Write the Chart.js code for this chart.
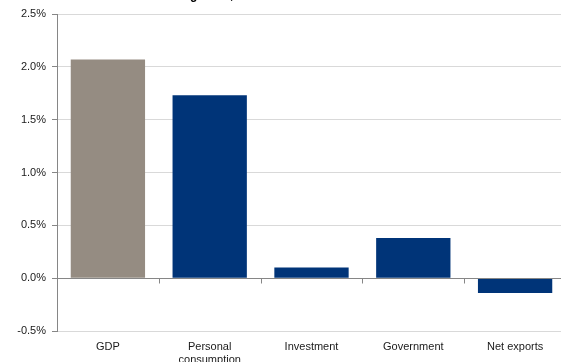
<!DOCTYPE html>
<html>
<head>
<meta charset="utf-8">
<script src="https://cdn.jsdelivr.net/npm/chart.js@4"></script>
<style>
  html, body { margin: 0; padding: 0; background: #fff; overflow: hidden; }
  canvas { display: block; }
</style>
</head>
<body>
<canvas id="growthChart" width="566" height="362"></canvas>
<script>
// Chart data
const categories = [['GDP'], ['Personal', 'consumption'], ['Investment'], ['Government'], ['Net exports']];
const contributions = [2.07, 1.73, 0.10, 0.38, -0.14];
const barColors = ['#958C82', '#003478', '#003478', '#003478', '#003478'];
const yTicks = { min: -0.5, max: 2.5, step: 0.5 };
const titleText = 'Contributions to real GDP growth, 2013';

// Title sits mostly above the visible area, only descenders show
const clippedTitle = {
    id: 'clippedTitle',
    afterDraw: (chart) => {
        const ctx = chart.ctx;
        ctx.save();
        ctx.font = 'bold 12px "Liberation Sans", Arial, sans-serif';
        ctx.fillStyle = '#000';
        ctx.textBaseline = 'alphabetic';
        const prefix = titleText.slice(0, titleText.indexOf('growth'));
        const x = 190 - ctx.measureText(prefix).width;
        ctx.fillText(titleText, x, -1);
        ctx.restore();
    }
};

// Tick marks on the zero line between categories
const zeroTicks = {
    id: 'zeroTicks',
    afterDatasetsDraw: (chart) => {
        const { ctx, scales: { x, y } } = chart;
        const y0 = Math.round(y.getPixelForValue(0)) + 0.5;
        const step = (x.right - x.left) / categories.length;
        ctx.save();
        ctx.strokeStyle = '#868686';
        ctx.lineWidth = 1;
        ctx.beginPath();
        ctx.moveTo(x.left, y0);
        ctx.lineTo(x.right, y0);
        for (let i = 1; i < categories.length; i++) {
            const px = Math.round(x.left + i * step) + 0.5;
            ctx.moveTo(px, y0);
            ctx.lineTo(px, y0 + 5);
        }
        ctx.stroke();
        ctx.restore();
    }
};

Chart.defaults.font.family = '"Liberation Sans", Arial, sans-serif';
Chart.defaults.font.size = 11;
Chart.defaults.color = '#1a1a1a';

new Chart(document.getElementById('growthChart').getContext('2d'), {
    type: 'bar',
    data: {
        labels: categories,
        datasets: [{
            data: contributions,
            backgroundColor: barColors,
            borderWidth: 0,
            barPercentage: 0.73,
            categoryPercentage: 1
        }]
    },
    options: {
        responsive: false,
        animation: false,
        layout: { padding: { top: 14, right: 0, left: 0, bottom: 0 } },
        plugins: {
            legend: { display: false },
            tooltip: { enabled: false }
        },
        scales: {
            x: {
                grid: { display: false },
                border: { display: false },
                ticks: { padding: 1, maxRotation: 0, autoSkip: false },
                afterFit: (scale) => { scale.height = 31; }
            },
            y: {
                min: yTicks.min,
                max: yTicks.max,
                grid: {
                    color: '#d9d9d9',
                    tickColor: '#868686',
                    tickLength: 5
                },
                border: { display: true, color: '#868686' },
                ticks: {
                    stepSize: yTicks.step,
                    padding: 6,
                    callback: (v) => v.toFixed(1) + '%'
                },
                afterFit: (scale) => { scale.width = 57; }
            }
        }
    },
    plugins: [zeroTicks, clippedTitle]
});
</script>
</body>
</html>
